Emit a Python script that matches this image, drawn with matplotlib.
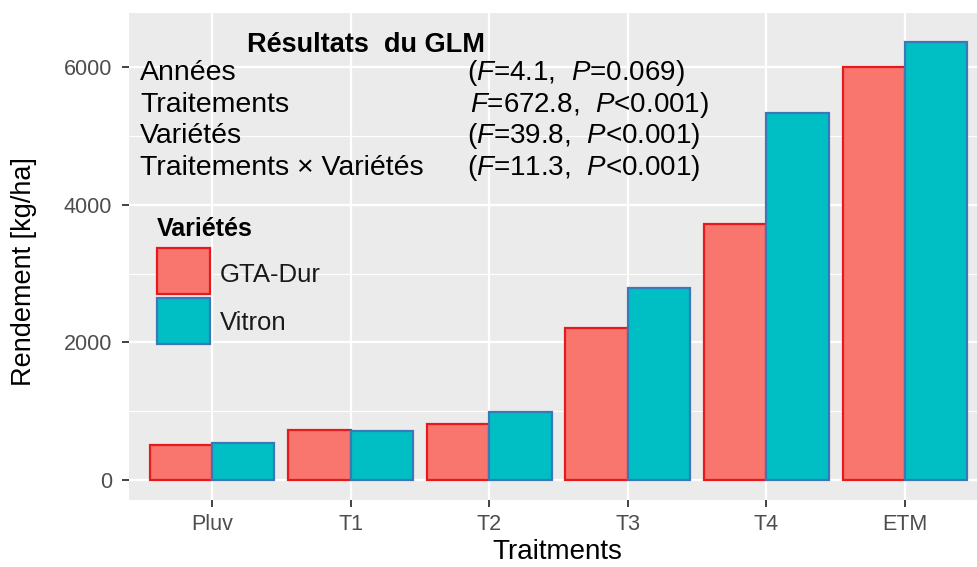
import matplotlib
matplotlib.use("Agg")
import matplotlib.pyplot as plt
import numpy as np
from matplotlib.patches import Rectangle

plt.rcParams['font.family'] = ['Liberation Sans', 'DejaVu Sans']
plt.rcParams['mathtext.fontset'] = 'custom'
plt.rcParams['mathtext.rm'] = 'Liberation Sans'
plt.rcParams['mathtext.it'] = 'Liberation Sans:italic'

categories = ["Pluv", "T1", "T2", "T3", "T4", "ETM"]
gta_dur = [505, 725, 810, 2210, 3725, 6000]
vitron = [540, 715, 995, 2795, 5340, 6375]
series_names = ["GTA-Dur", "Vitron"]
fills = ["#F8766D", "#00BFC4"]
edges = ["#E41A1C", "#3A78B8"]
y_ticks = [0, 2000, 4000, 6000]
y_minor = [1000, 3000, 5000]

W, H = 978, 567
fig = plt.figure(figsize=(W / 100, H / 100), dpi=100)
L, R, T, B = 129, 978, 13, 500
ax = fig.add_axes([L / W, 1 - B / H, (R - L) / W, (B - T) / H])
ax.set_facecolor("#EBEBEB")
for s in ax.spines.values():
    s.set_visible(False)

x = np.arange(len(categories))
bw = 0.45
ax.bar(x - bw / 2, gta_dur, width=bw, color=fills[0], edgecolor=edges[0], linewidth=1.6, zorder=3)
ax.bar(x + bw / 2, vitron, width=bw, color=fills[1], edgecolor=edges[1], linewidth=1.6, zorder=3)

ax.set_xlim(-0.6, 5.527)
ax.set_ylim(-290, 6790)
ax.set_xticks(x)
ax.set_xticklabels(categories)
ax.set_yticks(y_ticks)
ax.set_yticks(y_minor, minor=True)
ax.tick_params(axis='both', which='major', colors="#333333", labelcolor="#4D4D4D",
               labelsize=15.5, length=5, width=1.3)
ax.tick_params(axis='y', which='major', pad=7)
ax.tick_params(axis='x', which='major', pad=5)
ax.tick_params(axis='y', which='minor', length=0)
ax.grid(True, which='major', color='white', linewidth=1.6, zorder=0)
ax.grid(True, which='minor', axis='y', color='white', linewidth=0.8, zorder=0)
ax.set_axisbelow(True)

ax.set_xlabel("Traitments", fontsize=20, va='baseline')
ax.xaxis.set_label_coords((557 - L) / (R - L), (B - 559) / (B - T))
ax.set_ylabel("Rendement [kg/ha]", fontsize=19.5, va='center')
ax.yaxis.set_label_coords((24 - L) / (R - L), (B - 272) / (B - T))

def fx(px):
    return px / W
def fy(py):
    return 1 - py / H

fig.text(fx(366), fy(52), "Résultats  du GLM", fontsize=19.5, fontweight='bold', ha='center', va='baseline')
rows_left = ["Années", "Traitements", "Variétés", "Traitements × Variétés"]
rows_right = [r"($\mathit{F}$=4.1,  $\mathit{P}$=0.069)",
              r"$\mathit{F}$=672.8,  $\mathit{P}$<0.001)",
              r"($\mathit{F}$=39.8,  $\mathit{P}$<0.001)",
              r"($\mathit{F}$=11.3,  $\mathit{P}$<0.001)"]
rows_x = [467, 470, 467, 467]
rows_base = [80, 111.5, 143, 175]
for i, (a, b) in enumerate(zip(rows_left, rows_right)):
    fig.text(fx(140), fy(rows_base[i]), a, fontsize=20.5, ha='left', va='baseline')
    fig.text(fx(rows_x[i]), fy(rows_base[i]), b, fontsize=20, ha='left', va='baseline')

# legend
fig.text(fx(157), fy(236), "Variétés", fontsize=18, fontweight='bold', ha='left', va='baseline')
key_top = [248, 298]
label_base = [282, 330]
for i in range(2):
    r = Rectangle((fx(157), fy(key_top[i] + 46)), fx(53), 46 / H, transform=fig.transFigure,
                  facecolor=fills[i], edgecolor=edges[i], linewidth=1.6, zorder=5)
    fig.patches.append(r)
    fig.text(fx(220), fy(label_base[i]), series_names[i], fontsize=18.5, ha='left', va='baseline',
             color="#1A1A1A")

fig.savefig("out.png", dpi=100)
